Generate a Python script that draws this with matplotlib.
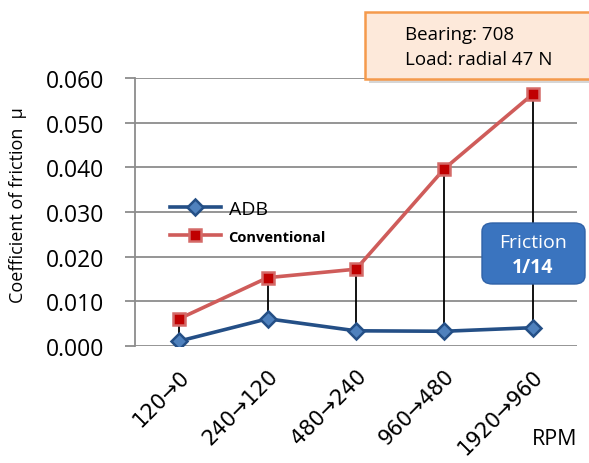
import matplotlib
matplotlib.use("Agg")
import matplotlib.pyplot as plt
from matplotlib.patches import FancyBboxPatch, Rectangle

# data
categories = ["120→0", "240→120", "480→240", "960→480", "1920→960"]
adb = [0.0011, 0.0061, 0.0034, 0.0033, 0.0041]
conventional = [0.0061, 0.0153, 0.0172, 0.0397, 0.0564]
yticks = [0.000, 0.010, 0.020, 0.030, 0.040, 0.050, 0.060]

BLUE = "#244F86"
BLUE_FILL = "#4F81BD"
RED_LINE = "#CF5C5A"
RED_FILL = "#C00000"

plt.rcParams["font.family"] = ["Open Sans", "DejaVu Sans"]

fig = plt.figure(figsize=(5.89, 4.64), dpi=100)
ax = fig.add_axes([135 / 589, 1 - 347 / 464, 442 / 589, 268 / 464])

x = [i + 0.5 for i in range(len(categories))]

# high-low lines between the two series
ax.vlines(x, adb, conventional, color="black", lw=1.3, zorder=2)

ax.plot(x, conventional, color=RED_LINE, lw=2.6, marker="s", ms=8,
        mfc=RED_FILL, mec="#D46A68", mew=1.8, label="Conventional", zorder=3)
ax.plot(x, adb, color=BLUE, lw=2.6, marker="D", ms=8,
        mfc=BLUE_FILL, mec=BLUE, mew=1.8, label="ADB", zorder=4)

ax.set_xlim(0, len(categories))
ax.set_ylim(0, 0.060)
ax.set_yticks(yticks)
ax.set_yticklabels([f"{v:.3f}" for v in yticks], fontsize=16.5)
ax.set_xticks(x)
ax.set_xticklabels(categories, rotation=45, ha="right", rotation_mode="anchor",
                   fontsize=15, family=["DejaVu Sans"])
ax.tick_params(axis="x", length=0, pad=14)
ax.tick_params(axis="y", length=7, color="#8C8C8C", width=1.3, pad=15)
ax.yaxis.grid(True, color="#8C8C8C", lw=1.3)
ax.set_axisbelow(True)
for side in ("top", "right", "bottom"):
    ax.spines[side].set_visible(False)
ax.spines["left"].set_color("#8C8C8C")
ax.spines["left"].set_linewidth(1.3)

ax.set_ylabel("Coefficient of friction  μ", fontsize=13)
ax.yaxis.set_label_coords(-0.245, 0.53)
fig.text(555 / 589, 1 - 440 / 464, "RPM", fontsize=15.5, ha="center", va="center")

# legend
h, l = ax.get_legend_handles_labels()
leg = ax.legend(h[::-1], l[::-1], loc="upper left", bbox_to_anchor=(0.04, 0.61),
                frameon=False, handlelength=2.6, handletextpad=0.4,
                labelspacing=0.5, fontsize=14)
leg.get_texts()[1].set_fontsize(10.5)
leg.get_texts()[1].set_fontweight("bold")

# info box top right with shadow
fig.patches.append(Rectangle((369 / 589, 1 - 84 / 464), 220 / 589, 68 / 464,
                             transform=fig.transFigure, facecolor="#BBBBBB",
                             edgecolor="none", alpha=0.6, zorder=5))
fig.patches.append(Rectangle((365 / 589, 1 - 80 / 464), 225 / 589, 67 / 464,
                             transform=fig.transFigure, facecolor="#FDE9DA",
                             edgecolor="#F59A4C", lw=1.8, zorder=6))
fig.text(405 / 589, 1 - 35 / 464, "Bearing: 708", fontsize=13.5, va="center", zorder=7)
fig.text(405 / 589, 1 - 60 / 464, "Load: radial 47 N", fontsize=13.5, va="center", zorder=7)

# friction badge
fig.patches.append(FancyBboxPatch((482 / 589, 1 - 285 / 464), 103 / 589, 61 / 464,
                                  boxstyle="round,pad=0,rounding_size=0.018",
                                  transform=fig.transFigure, facecolor="#3A74BF",
                                  edgecolor="#2F62A8", lw=1, zorder=6))
fig.text(533 / 589, 1 - 243 / 464, "Friction", fontsize=14, color="white",
         ha="center", va="center", zorder=7)
fig.text(533 / 589, 1 - 268 / 464, "1/14", fontsize=14, color="white",
         fontweight="bold", ha="center", va="center", zorder=7)

fig.savefig("out.png", dpi=100)
